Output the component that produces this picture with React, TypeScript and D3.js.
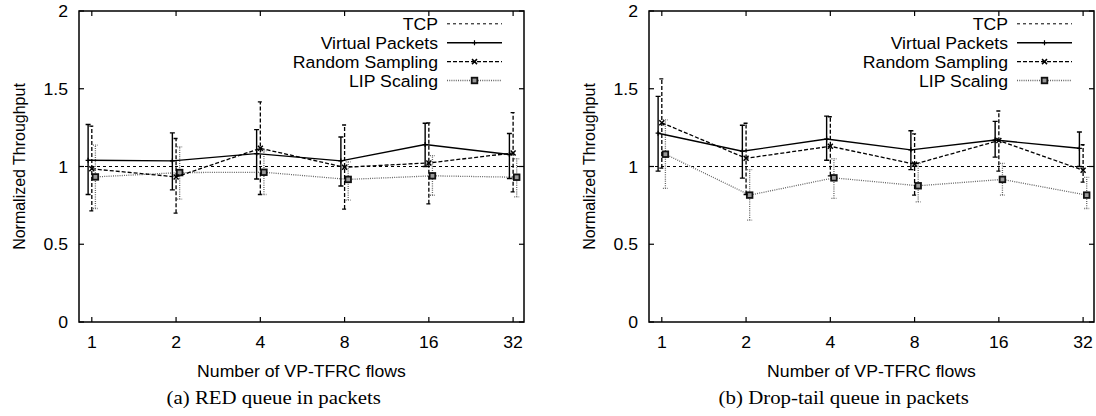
import * as d3 from 'd3'
import { useEffect, useRef } from 'react'

// x categories (number of VP-TFRC flows) and y ticks
const flows = [1, 2, 4, 8, 16, 32]
const yTicks = [0, 0.5, 1, 1.5, 2]
const legendNames = ['TCP', 'Virtual Packets', 'Random Sampling', 'LIP Scaling']
const tcpLevel = 1

// (a) RED queue
const redVP = [1.04, 1.036, 1.083, 1.036, 1.141, 1.077]
const redVPLo = [0.82, 0.85, 0.92, 0.875, 1.0, 0.923]
const redVPHi = [1.27, 1.216, 1.237, 1.19, 1.278, 1.212]
const redRS = [0.985, 0.933, 1.117, 0.995, 1.023, 1.087]
const redRSLo = [0.714, 0.7, 0.82, 0.726, 0.76, 0.837]
const redRSHi = [1.26, 1.18, 1.415, 1.267, 1.28, 1.347]
const redLIP = [0.933, 0.961, 0.963, 0.917, 0.94, 0.931]
const redLIPLo = [0.73, 0.79, 0.82, 0.784, 0.815, 0.805]
const redLIPHi = [1.137, 1.126, 1.1, 1.03, 1.07, 1.05]

// (b) Drop-tail queue
const dtVP = [1.214, 1.098, 1.177, 1.107, 1.17, 1.117]
const dtVPLo = [0.97, 0.925, 1.04, 0.98, 1.06, 1.0]
const dtVPHi = [1.451, 1.265, 1.324, 1.23, 1.29, 1.222]
const dtRS = [1.281, 1.053, 1.13, 1.015, 1.167, 0.976]
const dtRSLo = [0.99, 0.82, 0.94, 0.816, 0.97, 0.9]
const dtRSHi = [1.563, 1.278, 1.32, 1.21, 1.357, 1.14]
const dtLIP = [1.079, 0.816, 0.927, 0.876, 0.917, 0.816]
const dtLIPLo = [0.859, 0.655, 0.795, 0.773, 0.816, 0.73]
const dtLIPHi = [1.3, 0.98, 1.05, 1.02, 1.02, 0.93]

const panels = [
  {
    caption: '(a) RED queue in packets',
    series: [
      { mean: redLIP, lo: redLIPLo, hi: redLIPHi },
      { mean: redRS, lo: redRSLo, hi: redRSHi },
      { mean: redVP, lo: redVPLo, hi: redVPHi }
    ]
  },
  {
    caption: '(b) Drop-tail queue in packets',
    series: [
      { mean: dtLIP, lo: dtLIPLo, hi: dtLIPHi },
      { mean: dtRS, lo: dtRSLo, hi: dtRSHi },
      { mean: dtVP, lo: dtVPLo, hi: dtVPHi }
    ]
  }
]

// line styles, same order as panel series (LIP, RS, VP)
const styles = [
  { stroke: '#666', dash: '1,1.2', width: 1.3, shift: 1.03, marker: 'box' },
  { stroke: '#000', dash: '4,2', width: 1.3, shift: 1.0, marker: 'cross' },
  { stroke: '#000', dash: null, width: 1.4, shift: 0.97, marker: 'plus' }
]

const sans = '"Liberation Sans", Arial, sans-serif'
const serif = '"Liberation Serif", "Times New Roman", serif'
const stretch = 1.07 // text in the picture is a bit wide

export default function App() {
  const ref = useRef<SVGSVGElement>(null)

  useEffect(() => {
    const svg = d3.select(ref.current)
    svg.selectAll('*').remove()

    const left = 79,
      right = 524,
      top = 11,
      bottom = 322

    const label = (g: any, x: number, y: number, str: string, anchor: string, size = 16.5, font = sans) =>
      g
        .append('text')
        .attr('transform', `translate(${x},${y}) scale(${stretch},1)`)
        .attr('text-anchor', anchor)
        .style('font-family', font)
        .style('font-size', size + 'px')
        .attr('fill', '#000')
        .text(str)

    const marker = (g: any, type: string, cx: number, cy: number) => {
      if (type === 'plus') {
        g.append('path')
          .attr('d', `M${cx - 2.5},${cy}H${cx + 2.5}M${cx},${cy - 2.5}V${cy + 2.5}`)
          .attr('stroke', '#000')
          .attr('stroke-width', 1.2)
      } else if (type === 'cross') {
        g.append('path')
          .attr('d', `M${cx - 2.5},${cy - 2.5}L${cx + 2.5},${cy + 2.5}M${cx - 2.5},${cy + 2.5}L${cx + 2.5},${cy - 2.5}`)
          .attr('stroke', '#000')
          .attr('stroke-width', 1.5)
      } else {
        g.append('rect')
          .attr('x', cx - 2.8)
          .attr('y', cy - 2.8)
          .attr('width', 5.6)
          .attr('height', 5.6)
          .attr('fill', '#999')
          .attr('stroke', '#111')
          .attr('stroke-width', 1.8)
      }
    }

    panels.forEach((p, pi) => {
      const g = svg.append('g').attr('transform', `translate(${pi * 570},0)`)

      const x = d3.scaleLog().base(2).domain([0.9, 35]).range([left, right])
      const y = d3.scaleLinear().domain([0, 2]).range([bottom, top])

      // ticks, mirrored inside the frame
      flows.forEach((f) => {
        g.append('line').attr('x1', x(f)).attr('x2', x(f)).attr('y1', bottom).attr('y2', bottom - 5).attr('stroke', '#000').attr('stroke-width', 1.2)
        g.append('line').attr('x1', x(f)).attr('x2', x(f)).attr('y1', top).attr('y2', top + 5).attr('stroke', '#000').attr('stroke-width', 1.2)
        label(g, x(f), 348, String(f), 'middle')
      })
      yTicks.forEach((v) => {
        g.append('line').attr('x1', left).attr('x2', left + 5).attr('y1', y(v)).attr('y2', y(v)).attr('stroke', '#000').attr('stroke-width', 1.2)
        g.append('line').attr('x1', right).attr('x2', right - 5).attr('y1', y(v)).attr('y2', y(v)).attr('stroke', '#000').attr('stroke-width', 1.2)
        label(g, 68, y(v) + 6, String(v), 'end')
      })

      // TCP reference
      g.append('line')
        .attr('x1', left)
        .attr('x2', right)
        .attr('y1', y(tcpLevel))
        .attr('y2', y(tcpLevel))
        .attr('stroke', '#000')
        .attr('stroke-width', 1)
        .attr('stroke-dasharray', '3,3')

      p.series.forEach((s, si) => {
        const st = styles[si]
        const px = (i: number) => x(flows[i] * st.shift)
        const line = d3
          .line<number>()
          .x((d, i) => px(i))
          .y((d) => y(d))

        // error bars
        s.mean.forEach((m, i) => {
          const bx = px(i)
          const path = `M${bx},${y(s.lo[i])}V${y(s.hi[i])}M${bx - 2.5},${y(s.lo[i])}H${bx + 2.5}M${bx - 2.5},${y(s.hi[i])}H${bx + 2.5}`
          g.append('path')
            .attr('d', path)
            .attr('fill', 'none')
            .attr('stroke', st.stroke)
            .attr('stroke-width', st.width)
            .attr('stroke-dasharray', st.dash)
        })

        g.append('path')
          .datum(s.mean)
          .attr('d', line)
          .attr('fill', 'none')
          .attr('stroke', st.stroke)
          .attr('stroke-width', st.width)
          .attr('stroke-dasharray', st.dash)

        s.mean.forEach((m, i) => marker(g, st.marker, px(i), y(m)))
      })

      // frame
      g.append('rect')
        .attr('x', left)
        .attr('y', top)
        .attr('width', right - left)
        .attr('height', bottom - top)
        .attr('fill', 'none')
        .attr('stroke', '#000')
        .attr('stroke-width', 1.5)

      // legend
      const legendStyles = [{ stroke: '#000', dash: '3,3', width: 1, marker: null }, styles[2], styles[1], styles[0]]
      legendNames.forEach((name, li) => {
        const ly = 23.8 + li * 18.9
        const st = legendStyles[li]
        label(g, right - 86, ly + 6, name, 'end')
        g.append('line')
          .attr('x1', right - 77)
          .attr('x2', right - 22)
          .attr('y1', ly)
          .attr('y2', ly)
          .attr('stroke', st.stroke)
          .attr('stroke-width', st.width)
          .attr('stroke-dasharray', st.dash)
        if (st.marker) marker(g, st.marker, right - 49.5, ly)
      })

      // axis labels and caption
      label(g, (left + right) / 2, 377, 'Number of VP-TFRC flows', 'middle')
      g.append('text')
        .attr('transform', `translate(25,${(top + bottom) / 2}) rotate(-90) scale(1,${stretch})`)
        .attr('text-anchor', 'middle')
        .style('font-family', sans)
        .style('font-size', '16px')
        .text('Normalized Throughput')
      label(g, 273.7, 404, p.caption, 'middle', 19.5, serif)
    })
  }, [])

  return (
    <svg
      ref={ref}
      width={1096}
      height={416}
      style={{ position: 'absolute', left: 0, top: 0, background: '#fff' }}
    />
  )
}
